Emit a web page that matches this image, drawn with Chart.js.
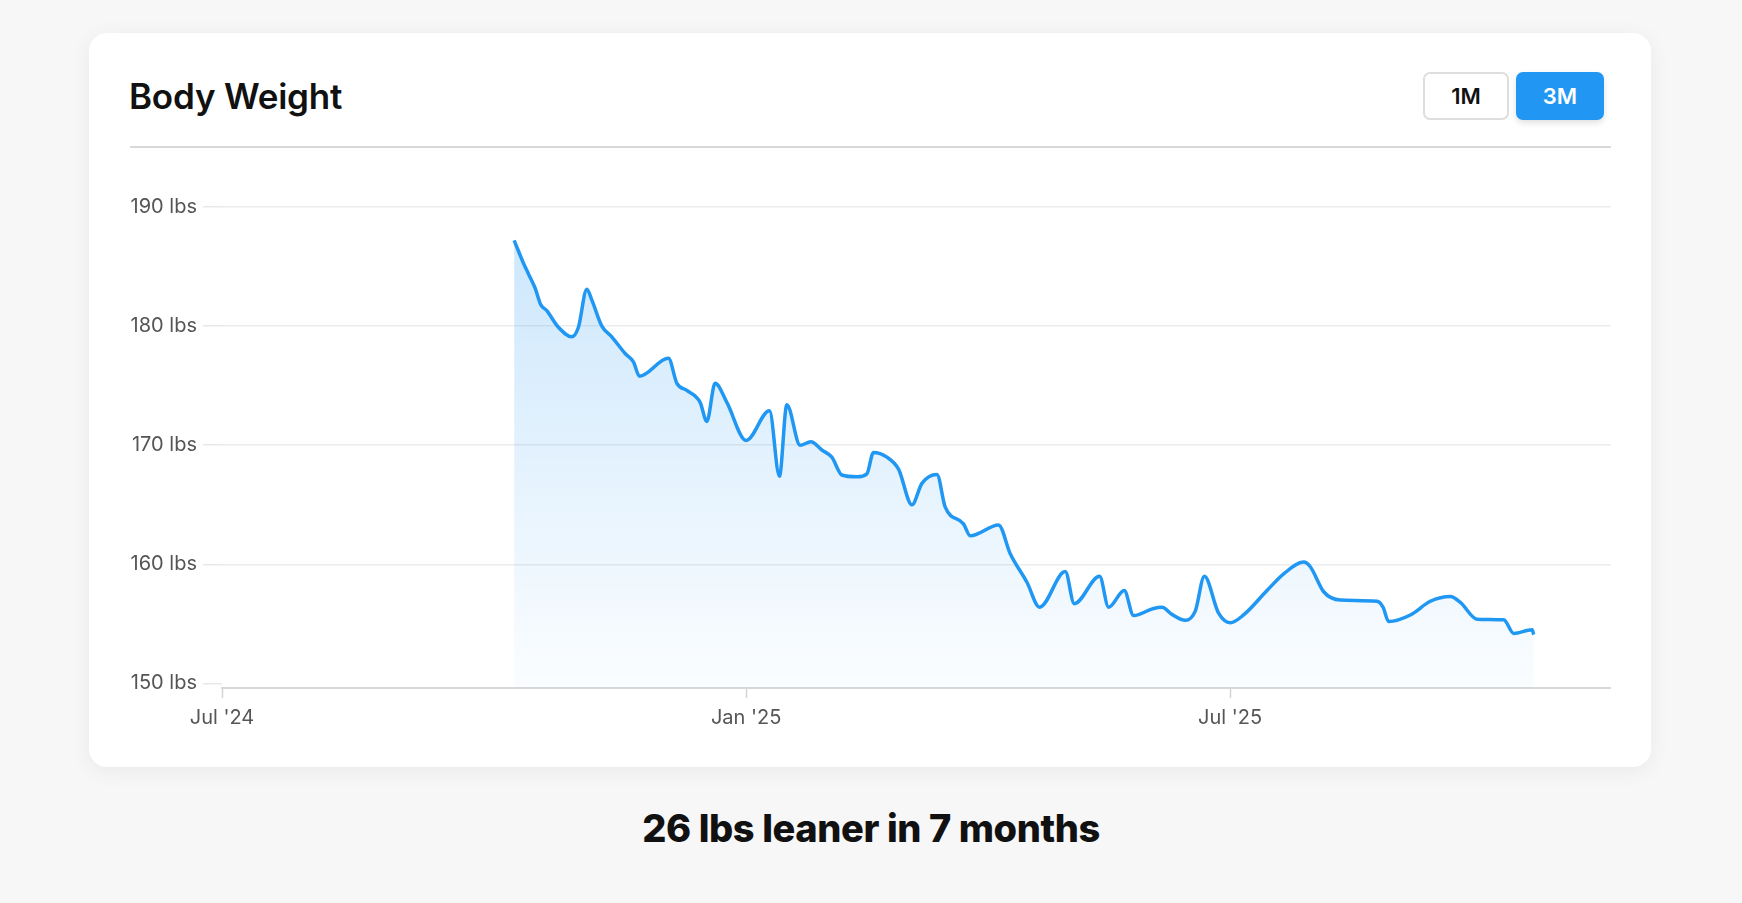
<!DOCTYPE html>
<html>
<head>
<meta charset="utf-8">
<script src="https://cdn.jsdelivr.net/npm/chart.js"></script>
<style>
  html, body { margin: 0; padding: 0; }
  body {
    width: 1742px; height: 903px; position: relative; overflow: hidden;
    background: #f7f7f7; font-family: "Inter", "Noto Sans", sans-serif;
  }
  .card {
    position: absolute; left: 89px; top: 33px; width: 1562px; height: 734px;
    background: #fff; border-radius: 18px;
    box-shadow: 0 4px 22px rgba(0,0,0,0.06);
  }
  .title {
    position: absolute; left: 129px; top: 75px; line-height: 42px;
    font-size: 35px; font-weight: 600; color: #111; letter-spacing: -0.2px;
  }
  .sep {
    position: absolute; left: 130px; top: 146px; width: 1481px; height: 2px;
    background: #d9d9d9;
  }
  .btn {
    position: absolute; top: 72px; height: 48px; box-sizing: border-box;
    border-radius: 7px; font-size: 22px; font-weight: 600;
    display: flex; align-items: center; justify-content: center;
  }
  .btn.off { left: 1423px; width: 86px; background: #fff; border: 2px solid #dedede; color: #111; }
  .btn.on { left: 1516px; width: 88px; background: #2196f3; color: #fff;
    box-shadow: 0 3px 6px rgba(0,0,0,0.12); }
  .chart-box { position: absolute; left: 129px; top: 170px; width: 1482px; height: 570px; }
  .caption {
    position: absolute; left: 0; width: 1742px; top: 807px; line-height: 42px;
    text-align: center; font-size: 38px; font-weight: 800; color: #111; letter-spacing: -0.4px;
  }
</style>
</head>
<body>
  <div class="card"></div>
  <div class="title">Body Weight</div>
  <div class="btn off">1M</div>
  <div class="btn on">3M</div>
  <div class="sep"></div>
  <div class="chart-box"><canvas id="weightChart"></canvas></div>
  <div class="caption">26 lbs leaner in 7 months</div>

<script>
  // x position in months since Jul '24
  const months = [
    3.344, 3.450, 3.507, 3.584, 3.649, 3.718, 3.851, 4.004, 4.080, 4.176,
    4.233, 4.348, 4.462, 4.615, 4.710, 4.778, 5.110, 5.207, 5.321, 5.473,
    5.550, 5.645, 5.779, 6.000, 6.267, 6.381, 6.466, 6.618, 6.741, 6.867,
    6.981, 7.096, 7.268, 7.382, 7.458, 7.611, 7.744, 7.898, 8.012, 8.184,
    8.279, 8.488, 8.565, 8.889, 9.023, 9.214, 9.359, 9.653, 9.756, 10.046,
    10.149, 10.328, 10.435, 10.664, 10.760, 10.875, 11.027, 11.142, 11.245, 11.408,
    11.542, 11.694, 11.962, 12.153, 12.382, 12.458, 12.611, 12.802, 13.222, 13.291,
    13.355, 13.603, 13.832, 14.061, 14.176, 14.367, 14.672, 14.786, 14.997, 15.015
  ];

  // body weight in lbs
  const weights = [
    187.2, 185.3, 184.4, 183.2, 181.8, 181.3, 179.9, 179.1, 179.9, 183.1,
    182.2, 180.0, 179.1, 177.7, 177.0, 175.8, 177.3, 175.2, 174.6, 173.6,
    172.0, 175.2, 173.6, 170.4, 172.9, 167.4, 173.4, 170.0, 170.3, 169.6,
    169.0, 167.5, 167.35, 167.6, 169.4, 169.0, 168.0, 165.0, 166.8, 167.55,
    164.8, 163.4, 162.4, 163.3, 160.9, 158.5, 156.4, 159.4, 156.7, 159.0,
    156.4, 157.8, 155.7, 156.3, 156.4, 155.8, 155.3, 156.1, 159.0, 155.9,
    155.1, 155.75, 157.8, 159.2, 160.2, 159.8, 157.7, 157.0, 156.9, 156.4,
    155.2, 155.75, 156.9, 157.3, 156.8, 155.4, 155.35, 154.2, 154.5, 154.1
  ];

  // axis ticks
  const xTickValues = [0, 6, 11.54];
  const xTickLabels = ["Jul '24", "Jan '25", "Jul '25"];
  const yTickValues = [150, 160, 170, 180, 190];

  const points = months.map((m, i) => ({ x: m, y: weights[i] }));

  function fillGradient(context) {
    const area = context.chart.chartArea;
    if (!area) return 'rgba(33,150,243,0.15)';
    const g = context.chart.ctx.createLinearGradient(0, area.top, 0, area.bottom);
    g.addColorStop(0, 'rgba(33,150,243,0.24)');
    g.addColorStop(1, 'rgba(33,150,243,0.02)');
    return g;
  }

  new Chart(document.getElementById('weightChart'), {
    type: 'line',
    data: {
      datasets: [{
        data: points,
        borderColor: '#1f97f3',
        borderWidth: 3.5,
        pointRadius: 0,
        cubicInterpolationMode: 'monotone',
        fill: 'start',
        backgroundColor: fillGradient
      }]
    },
    options: {
      responsive: true,
      maintainAspectRatio: false,
      animation: false,
      layout: { padding: { top: 37, bottom: 0, left: 0, right: 0 } },
      plugins: { legend: { display: false }, tooltip: { enabled: false } },
      scales: {
        x: {
          type: 'linear',
          min: 0,
          max: 15.9,
          afterBuildTicks: (scale) => { scale.ticks = xTickValues.map(v => ({ value: v })); },
          afterFit: (scale) => { scale.height = 52; },
          ticks: {
            callback: (v, i) => xTickLabels[i],
            color: '#555',
            font: { family: 'Inter', size: 20 },
            padding: 8,
            maxRotation: 0
          },
          grid: { drawOnChartArea: false, drawTicks: true, tickLength: 10, tickColor: '#d4d4d4', tickWidth: 1.5 },
          border: { display: true, color: '#d8d8d8', width: 2 }
        },
        y: {
          min: 149.62,
          max: 190,
          afterBuildTicks: (scale) => { scale.ticks = yTickValues.map(v => ({ value: v })); },
          afterFit: (scale) => { scale.width = 93; },
          ticks: {
            callback: (v) => v + ' lbs',
            color: '#555',
            font: { family: 'Inter', size: 20 },
            padding: 6
          },
          grid: {
            color: (ctx) => (ctx.tick && ctx.tick.value === 150) ? 'rgba(0,0,0,0)' : '#ececec',
            tickColor: '#e8e8e8',
            tickLength: 19,
            lineWidth: 1.5
          },
          border: { display: false }
        }
      }
    }
  });
</script>
</body>
</html>
